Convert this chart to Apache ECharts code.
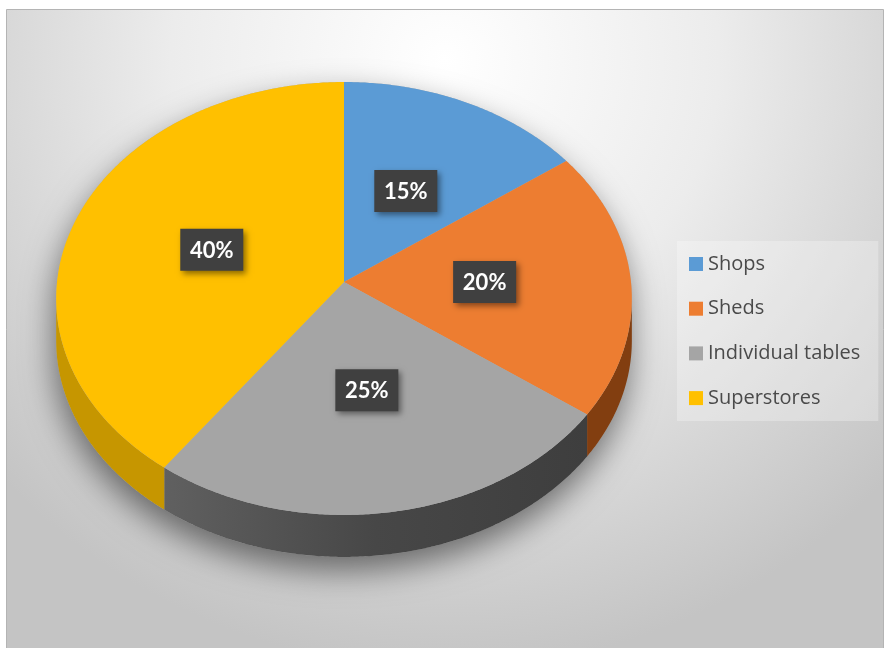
<!DOCTYPE html>
<html>
<head>
<meta charset="utf-8">
<script src="https://cdn.jsdelivr.net/npm/echarts@6/dist/echarts.min.js"></script>
<style>
  html, body { margin: 0; padding: 0; background: #ffffff; }
  #chart { width: 885px; height: 648px; }
</style>
</head>
<body>
<div id="chart"></div>
<script>
// Market share by outlet type
const categories = ['Shops', 'Sheds', 'Individual tables', 'Superstores'];
const shares = [15, 20, 25, 40];
const topColors = ['#5B9BD5', '#ED7D31', '#A5A5A5', '#FFC000'];
const sideColors = ['#8a4a16', '#823e10', '#4a4a4a', '#C69600'];

// Tilted disc geometry (simple perspective)
const CX = 344, CY = 282, RX = 287, RY = 215.2, PERSP = 0.0762, DEPTH = 42;
const TOTAL = shares.reduce((a, b) => a + b, 0);
const THETA_R = Math.acos(-PERSP);               // rightmost point of the rim
const THETA_L = 2 * Math.PI - THETA_R;            // leftmost point of the rim

function project(theta, r) {
  const u = r * Math.sin(theta), v = -r * Math.cos(theta);
  const w = 1 - PERSP * v;
  return [CX + RX * u / w, CY + RY * v / w];
}
function arc(a0, a1, dy) {
  const pts = [];
  const n = Math.max(2, Math.ceil(Math.abs(a1 - a0) / (Math.PI / 360)));
  for (let k = 0; k <= n; k++) {
    const p = project(a0 + (a1 - a0) * k / n, 1);
    pts.push([p[0], p[1] + (dy || 0)]);
  }
  return pts;
}
function sliceAngles(i) {
  let before = 0;
  for (let k = 0; k < i; k++) before += shares[k];
  const a0 = before / TOTAL * 2 * Math.PI;
  return [a0, a0 + shares[i] / TOTAL * 2 * Math.PI];
}

const chart = echarts.init(document.getElementById('chart'), null, { renderer: 'canvas' });

const option = {
  backgroundColor: '#ffffff',
  animation: false,
  graphic: [{
    type: 'rect',
    z: -10,
    silent: true,
    shape: { x: 6.5, y: 9.5, width: 877, height: 640 },
    style: {
      fill: {
        type: 'radial', x: 0.5, y: 0.08, r: 0.95,
        colorStops: [
          { offset: 0, color: '#ffffff' },
          { offset: 0.45, color: '#ececec' },
          { offset: 1, color: '#c4c4c4' }
        ]
      },
      stroke: '#b4b4b4',
      lineWidth: 1
    }
  }],
  legend: {
    orient: 'vertical',
    left: 677,
    top: 241,
    padding: [13, 18, 13, 12],
    itemWidth: 14,
    itemHeight: 14,
    itemGap: 24.7,
    icon: 'rect',
    selectedMode: false,
    backgroundColor: 'rgba(255,255,255,0.28)',
    data: categories,
    textStyle: { fontFamily: 'Open Sans', fontSize: 20, lineHeight: 20, color: '#4a4a4a' }
  },
  series: [
    {
      // legend source (drawn with zero radius)
      type: 'pie',
      radius: 0,
      center: [-50, -50],
      silent: true,
      label: { show: false },
      labelLine: { show: false },
      data: categories.map((name, i) => ({ name, value: shares[i], itemStyle: { color: topColors[i] } }))
    },
    {
      // soft shadow under the disc
      type: 'custom',
      coordinateSystem: 'none',
      z: 1,
      silent: true,
      data: [0],
      renderItem: function () {
        const pts = arc(THETA_R, THETA_L, DEPTH).concat(arc(THETA_L, THETA_R + 2 * Math.PI, 0));
        return {
          type: 'polygon',
          shape: { points: pts },
          style: {
            fill: '#b0b0b0',
            shadowColor: 'rgba(0,0,0,0.5)',
            shadowBlur: 32,
            shadowOffsetX: -2,
            shadowOffsetY: 14
          }
        };
      }
    },
    {
      // the 3D pie: rim walls, top faces and value labels
      type: 'custom',
      coordinateSystem: 'none',
      z: 2,
      silent: true,
      data: shares.map((v, i) => [i, v]),
      renderItem: function (params, api) {
        const i = api.value(0);
        const val = api.value(1);
        const [a0, a1] = sliceAngles(i);
        const children = [];
        const s = Math.max(a0, THETA_R), e = Math.min(a1, THETA_L);
        if (s < e) {
          const wall = arc(s, e, 0).concat(arc(e, s, DEPTH));
          let fill = sideColors[i];
          if (i === 2) {
            fill = new echarts.graphic.LinearGradient(0, 0, 1, 0, [
              { offset: 0, color: '#606060' },
              { offset: 0.5, color: '#474747' },
              { offset: 1, color: '#3e3e3e' }
            ]);
          }
          children.push({ type: 'polygon', z2: 1, shape: { points: wall }, style: { fill: fill } });
        }
        const face = [[CX, CY]].concat(arc(a0, a1, 0));
        children.push({ type: 'polygon', z2: 2, shape: { points: face }, style: { fill: topColors[i] } });

        const mid = (a0 + a1) / 2;
        const p = project(mid, 0.49);
        children.push({
          type: 'rect', z2: 10,
          shape: { x: p[0] - 31.5, y: p[1] - 21, width: 63, height: 42 },
          style: {
            fill: '#404040',
            shadowColor: 'rgba(0,0,0,0.45)',
            shadowBlur: 6,
            shadowOffsetX: 3,
            shadowOffsetY: 3
          }
        });
        children.push({
          type: 'text', z2: 11,
          x: p[0], y: p[1] + 1,
          style: {
            text: val + '%',
            fill: '#ffffff',
            font: 'bold 22px Lato',
            align: 'center',
            verticalAlign: 'middle'
          }
        });
        return { type: 'group', children: children };
      }
    }
  ]
};

chart.setOption(option);
</script>
</body>
</html>
